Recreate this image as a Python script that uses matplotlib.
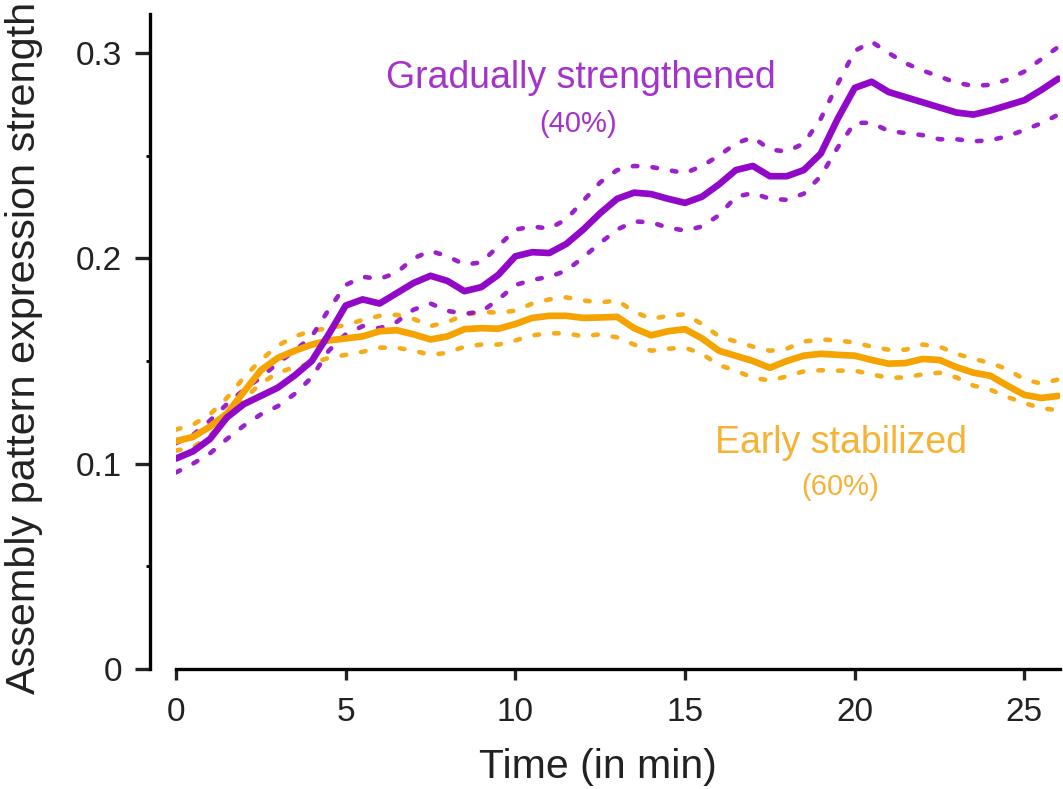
import numpy as np
import matplotlib.pyplot as plt

# time grid (min)
time_min = np.arange(0, 26.01, 0.5)

gradual_mean = [
    0.1025, 0.106, 0.112, 0.1225, 0.129, 0.133, 0.137, 0.143, 0.150, 0.163,
    0.177, 0.180, 0.178, 0.183, 0.188, 0.1915, 0.189, 0.184, 0.186, 0.192,
    0.201, 0.203, 0.2026, 0.207, 0.214, 0.222, 0.229, 0.232, 0.2313, 0.229,
    0.227, 0.230, 0.236, 0.243, 0.245, 0.240, 0.240, 0.243, 0.251, 0.268,
    0.283, 0.286, 0.281, 0.2785, 0.276, 0.2735, 0.271, 0.270, 0.272, 0.2745,
    0.277, 0.282, 0.2875,
]
gradual_upper = [
    0.110, 0.114, 0.121, 0.129, 0.136, 0.142, 0.149, 0.155, 0.162, 0.175,
    0.187, 0.191, 0.190, 0.193, 0.200, 0.2036, 0.201, 0.197, 0.198, 0.206,
    0.214, 0.2155, 0.2145, 0.219, 0.228, 0.237, 0.243, 0.245, 0.2445, 0.243,
    0.2415, 0.245, 0.250, 0.256, 0.259, 0.253, 0.252, 0.256, 0.268, 0.285,
    0.301, 0.3055, 0.300, 0.295, 0.2915, 0.2885, 0.2855, 0.284, 0.2845, 0.287,
    0.291, 0.297, 0.303,
]
gradual_lower = [
    0.0957, 0.100, 0.105, 0.112, 0.1185, 0.124, 0.128, 0.134, 0.142, 0.155,
    0.163, 0.167, 0.166, 0.169, 0.175, 0.178, 0.1744, 0.173, 0.174, 0.180,
    0.187, 0.1895, 0.191, 0.194, 0.2005, 0.2075, 0.214, 0.218, 0.2175, 0.215,
    0.2135, 0.2155, 0.221, 0.230, 0.2318, 0.229, 0.2285, 0.2315, 0.240, 0.254,
    0.266, 0.266, 0.262, 0.261, 0.260, 0.258, 0.258, 0.257, 0.2575, 0.2595,
    0.2625, 0.2658, 0.270,
]

early_mean = [
    0.111, 0.113, 0.118, 0.1244, 0.135, 0.1455, 0.1515, 0.155, 0.158, 0.160,
    0.161, 0.162, 0.1645, 0.165, 0.163, 0.1605, 0.162, 0.1655, 0.166, 0.1657,
    0.168, 0.171, 0.172, 0.172, 0.171, 0.1712, 0.1715, 0.166, 0.1625, 0.1645,
    0.1655, 0.161, 0.155, 0.1525, 0.150, 0.1467, 0.150, 0.1526, 0.1535, 0.153,
    0.1526, 0.1505, 0.1487, 0.149, 0.151, 0.1505, 0.147, 0.1443, 0.1428, 0.138,
    0.1335, 0.132, 0.133,
]
early_upper = [
    0.1166, 0.119, 0.124, 0.132, 0.142, 0.1505, 0.1575, 0.162, 0.1647, 0.166,
    0.1675, 0.170, 0.172, 0.1725, 0.1705, 0.167, 0.169, 0.1725, 0.174, 0.1735,
    0.1745, 0.178, 0.180, 0.181, 0.1795, 0.1785, 0.1795, 0.174, 0.1705, 0.172,
    0.1728, 0.168, 0.162, 0.1595, 0.157, 0.155, 0.156, 0.1595, 0.1605, 0.160,
    0.159, 0.157, 0.1555, 0.1555, 0.158, 0.157, 0.1535, 0.151, 0.149, 0.146,
    0.141, 0.139, 0.141,
]
early_lower = [
    0.1064, 0.108, 0.1135, 0.1225, 0.1315, 0.139, 0.1443, 0.147, 0.149, 0.1515,
    0.153, 0.1545, 0.1565, 0.1565, 0.155, 0.153, 0.154, 0.157, 0.158, 0.158,
    0.160, 0.1625, 0.1635, 0.1635, 0.162, 0.163, 0.1615, 0.158, 0.155, 0.156,
    0.1565, 0.1535, 0.148, 0.1453, 0.1418, 0.1405, 0.1425, 0.145, 0.1455, 0.1453,
    0.1453, 0.1435, 0.1418, 0.142, 0.1435, 0.1443, 0.142, 0.138, 0.136, 0.1325,
    0.1295, 0.127, 0.126,
]

x_ticks = [0, 5, 10, 15, 20, 25]
y_ticks = [0, 0.1, 0.2, 0.3]
y_tick_labels = ["0", "0.1", "0.2", "0.3"]

PURPLE = "#9208c8"
ORANGE = "#f5a300"
PURPLE_TEXT = "#a433cc"
ORANGE_TEXT = "#f7b234"

plt.rcParams["font.family"] = ["Liberation Sans", "DejaVu Sans"]

fig = plt.figure(figsize=(10.63, 7.89), dpi=100)
ax = fig.add_axes([176 / 1063, 120 / 789, (1060 - 176) / 1063, (669 - 14) / 789])

dot_kw = dict(linewidth=3.3, linestyle=(0, (1.0, 3.3)), dash_capstyle="round", alpha=0.9)
ax.plot(time_min, early_upper, color=ORANGE, **dot_kw)
ax.plot(time_min, early_lower, color=ORANGE, **dot_kw)
ax.plot(time_min, gradual_upper, color=PURPLE, **dot_kw)
ax.plot(time_min, gradual_lower, color=PURPLE, **dot_kw)
ax.plot(time_min, early_mean, color=ORANGE, linewidth=4.8, solid_capstyle="round", solid_joinstyle="round")
ax.plot(time_min, gradual_mean, color=PURPLE, linewidth=4.8, solid_capstyle="round", solid_joinstyle="round")

ax.set_xlim(0, 26.05)
ax.set_ylim(0, 0.319)
ax.set_xticks(x_ticks)
ax.set_yticks(y_ticks, y_tick_labels)
ax.set_yticks([0.05, 0.15, 0.25], minor=True)

for side in ["top", "right"]:
    ax.spines[side].set_visible(False)
ax.spines["left"].set_position(("outward", 19))
ax.spines["left"].set_linewidth(2.4)
ax.spines["bottom"].set_linewidth(2.4)
ax.tick_params(axis="both", which="major", width=2.4, labelsize=24, colors="#222222")
ax.tick_params(axis="y", which="major", length=11, pad=9)
ax.tick_params(axis="x", which="major", length=8, pad=12)
ax.tick_params(axis="y", which="minor", length=3, width=2)

fig.text(598 / 1063, 11 / 789, "Time (in min)", fontsize=29.5, color="#222222",
         ha="center", va="baseline")
fig.text(24 / 1063, 1 - 348 / 789, "Assembly pattern expression strength", rotation=90,
         fontsize=29.8, color="#222222", ha="center", va="center")

ax.text(11.93, 0.283, "Gradually strengthened", color=PURPLE_TEXT, fontsize=27, ha="center", va="baseline")
ax.text(11.84, 0.2616, "(40%)", color=PURPLE_TEXT, fontsize=21, ha="center", va="baseline")
ax.text(19.6, 0.1052, "Early stabilized", color=ORANGE_TEXT, fontsize=27, ha="center", va="baseline")
ax.text(19.58, 0.0848, "(60%)", color=ORANGE_TEXT, fontsize=21, ha="center", va="baseline")

fig.savefig("out.png", dpi=100)
